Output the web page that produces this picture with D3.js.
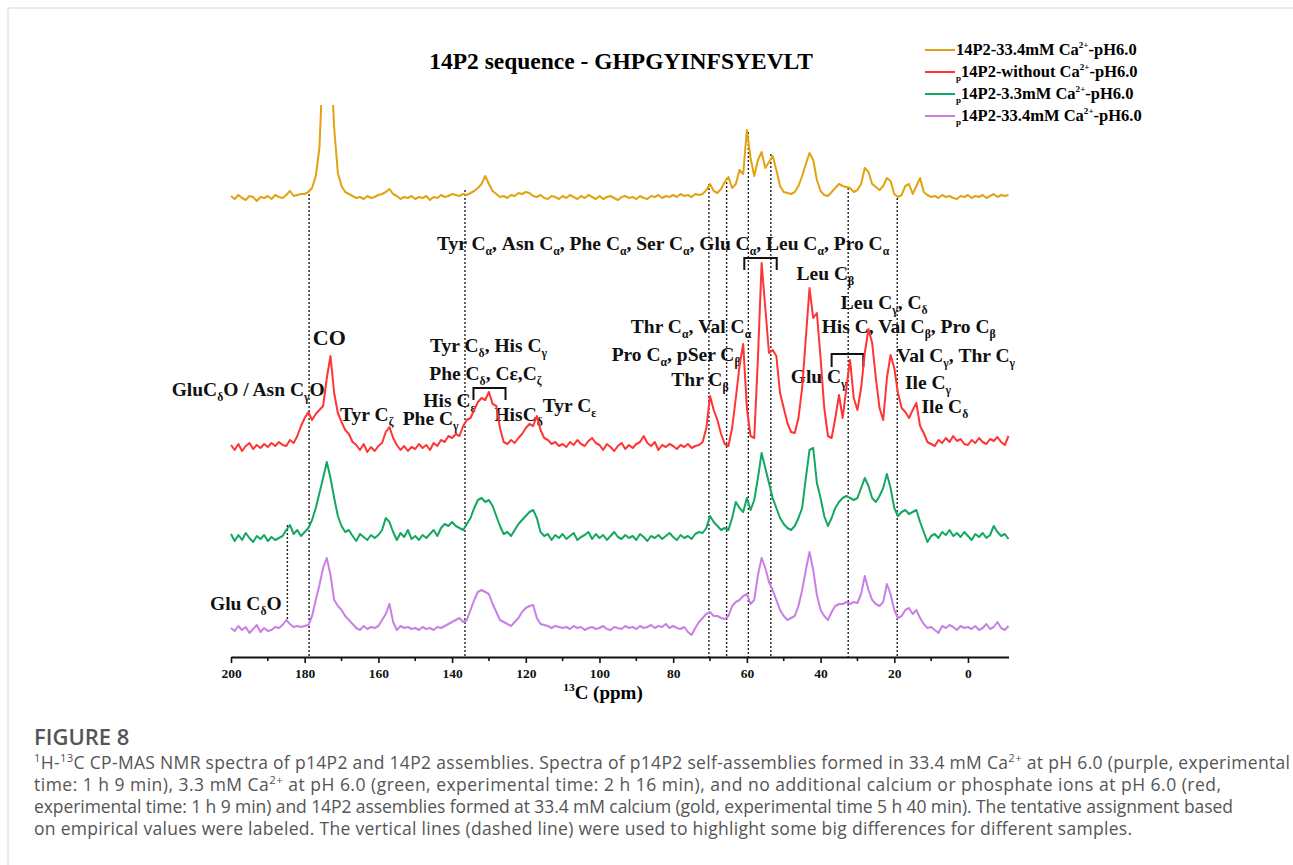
<!DOCTYPE html>
<html>
<head>
<meta charset="utf-8">
<script src="https://cdn.jsdelivr.net/npm/d3@7"></script>
<style>
body { margin: 0; background: #fff; }
</style>
</head>
<body>
<div id="chart"></div>
<script>
// chemical shift grid, 1 ppm per point, 200 -> -11
var ppm = d3.range(200, -12, -1);

// intensities (arbitrary units above each baseline)
var goldData = [
  2, -1, 3, 0, -2, 2, 1, -3, 1, 0,
  2, -1, 3, 1, 0, 3, 7, 2, 3, 4,
  4, 6, 10, 22, 50, 140, 170, 150, 70, 25,
  12, 6, 4, 2, 0, 1, -1, 2, 0, 1,
  3, 4, 6, 9, 4, 2, -1, 1, 0, 2,
  -1, 1, 0, 2, -2, 1, 0, 3, 1, 2,
  4, 3, 2, 4, 3, 5, 7, 10, 14, 22,
  14, 7, 4, 1, 2, 0, 3, 2, 5, 4,
  6, 5, 2, 1, 3, 0, -1, 2, 1, -1,
  2, 0, 3, 1, -1, 2, 0, 3, 1, -1,
  2, -1, 1, 2, 0, -2, 1, 2, 0, 1,
  -1, 2, 0, -1, 2, 1, 3, 0, 2, 1,
  3, 1, 4, 2, 3, 1, 4, 3, 4, 8,
  14, 7, 5, 9, 16, 21, 10, 14, 28, 24,
  68, 40, 22, 38, 46, 30, 36, 42, 28, 12,
  6, 5, 4, 6, 12, 22, 34, 45, 38, 18,
  7, 3, 2, 6, 10, 14, 12, 11, 10, 6,
  8, 14, 30, 26, 14, 11, 8, 12, 20, 17,
  4, 1, 3, 12, 14, 4, 12, 20, 6, 3,
  1, 2, 0, 3, 1, 2, 0, -1, 2, 1,
  3, 0, 2, 1, 3, 0, 2, 4, 1, 3, 2, 3
];
var redData = [
  3, -2, 4, -3, 2, 5, -1, 3, 0, 4,
  1, 5, 2, 6, 3, 2, 8, 5, 12, 22,
  30, 36, 28, 34, 38, 42, 70, 92, 55, 35,
  26, 18, 14, 6, 3, -2, 4, -4, 1, -3,
  2, 5, 16, 21, 10, 3, -2, 2, -3, 1,
  -1, 4, 0, 3, -2, 5, 2, 8, 6, 12,
  10, 14, 12, 22, 28, 30, 38, 46, 50, 48,
  56, 44, 42, 20, 6, 4, 8, 5, 10, 14,
  20, 24, 22, 32, 18, 10, 8, 4, 6, 2,
  4, 1, 6, 3, 8, 4, 2, 7, 10, 5,
  3, -2, 4, 1, -3, 2, 5, -1, 3, 0,
  4, 6, 12, 5, 2, 6, -2, 3, 1, 4,
  2, -1, 3, 1, 4, 0, 2, 3, 6, 20,
  52, 38, 28, 14, 4, 2, 20, 50, 82, 104,
  40, 12, 10, 90, 185, 140, 95, 98, 92, 55,
  40, 25, 16, 15, 30, 60, 110, 160, 130, 135,
  90, 40, 12, 10, 30, 53, 30, 60, 88, 50,
  38, 60, 95, 119, 105, 70, 40, 28, 70, 93,
  80, 55, 40, 36, 30, 38, 45, 22, 15, 6,
  4, 2, 8, 5, 10, 6, 12, 7, 9, 4,
  3, 8, 5, 10, 6, 4, 9, 7, 11, 6, 3, 12
];
var greenData = [
  4, -3, 3, -2, 5, 0, -4, 2, -1, 3,
  -3, 1, -2, 0, 2, 8, 13, 4, 8, 2,
  6, 10, 18, 30, 45, 60, 76, 60, 40, 22,
  12, 6, 8, 2, -3, 4, 1, -2, 3, 0,
  3, 8, 20, 16, 6, -2, 5, 1, 8, -1,
  2, -2, 3, 0, 4, 8, 2, 10, 14, 12,
  16, 12, 10, 8, 14, 20, 30, 38, 40, 36,
  38, 32, 22, 12, 4, 6, 2, 8, 14, 18,
  22, 26, 28, 20, 6, 2, 4, -2, 3, 0,
  4, -1, 2, 5, -2, 1, 3, 6, -1, 4,
  0, 3, -2, 2, 6, 1, -1, 3, 0, 2,
  -2, 4, 1, -3, 2, 0, 3, -1, 2, 5,
  1, -2, 3, 0, 2, -1, 4, 6, 5, 10,
  22, 16, 12, 8, 10, 8, 20, 36, 30, 26,
  40, 28, 38, 60, 85, 70, 55, 40, 30, 20,
  14, 10, 8, 12, 20, 30, 60, 88, 90, 55,
  40, 22, 12, 20, 30, 36, 40, 42, 40, 38,
  40, 50, 60, 52, 40, 36, 42, 50, 64, 50,
  30, 22, 26, 28, 24, 26, 28, 16, 6, -4,
  2, 4, 0, 6, 3, 8, 2, 5, 1, 6,
  2, -2, 4, 1, 5, 0, 3, 12, 6, 2, 4, -1
];
var purpleData = [
  2, -1, 4, 0, 3, -3, 1, 5, -2, 2,
  -1, 0, 3, 2, 5, 10, 6, 3, 4, 3,
  4, 5, 14, 30, 45, 62, 72, 55, 30, 24,
  20, 14, 10, 6, 2, 0, 4, 1, 3, 2,
  4, 10, 16, 26, 8, 0, 4, 2, 3, 1,
  2, 0, 3, 1, 2, 0, 3, 2, 4, 6,
  8, 10, 12, 8, 10, 20, 30, 38, 40, 38,
  36, 26, 18, 10, 8, 6, 4, 8, 12, 18,
  22, 24, 25, 12, 6, 5, 4, 2, 4, 3,
  2, 3, 1, 4, 2, 3, 0, 2, 3, 1,
  2, 4, 1, 0, 3, 2, 1, 4, 2, 3,
  1, 4, 2, 3, 5, 2, 4, 3, 6, 2,
  4, 2, 1, 3, -2, -5, 2, 8, 12, 16,
  18, 14, 14, 12, 11, 14, 24, 28, 30, 34,
  36, 26, 30, 55, 72, 62, 48, 40, 30, 20,
  14, 10, 12, 14, 24, 40, 60, 78, 60, 35,
  20, 14, 10, 18, 24, 26, 26, 28, 26, 28,
  27, 36, 54, 40, 30, 26, 24, 28, 46, 36,
  20, 12, 14, 20, 22, 16, 20, 12, 6, 2,
  3, 0, -3, 4, 2, 5, 3, 0, 4, 2,
  3, 1, 4, 0, 2, 6, 1, 3, 8, 2, 0, 4
];

var seriesNames = [
  "14P2-33.4mM Ca^{2+}-pH6.0",
  "_p14P2-without Ca^{2+}-pH6.0",
  "_p14P2-3.3mM Ca^{2+}-pH6.0",
  "_p14P2-33.4mM Ca^{2+}-pH6.0"
];
var seriesData = [goldData, redData, greenData, purpleData];
var seriesColors = ["#e3a20f", "#ff3535", "#12a862", "#c880e6"];
var seriesOffsets = [459, 209, 119, 27];

var xTicks = [200, 180, 160, 140, 120, 100, 80, 60, 40, 20, 0];
var xMinor = [190, 170, 150, 130, 110, 90, 70, 50, 30, 10];

// peak assignments: text, ppm where text starts, height level
var labels = [
  ["Tyr C_α, Asn C_α, Phe C_α, Ser C_α, Glu C_α, Leu C_α, Pro C_α", 144.1, 407],
  ["Leu C_β", 46.5, 377],
  ["Leu C_γ, C_δ", 34.5, 348],
  ["His C, Val C_β,  Pro C_β", 39.7, 324],
  ["Val C_γ, Thr C_γ", 19.3, 295],
  ["Ile C_γ", 17.1, 268],
  ["Ile C_δ", 12.6, 244],
  ["Glu C_γ", 48.1, 274],
  ["Thr C_β", 80.5, 271],
  ["Pro C_α, pSer C_β", 96.7, 296],
  ["Thr C_α, Val C_α", 91.5, 324],
  ["GluC_δO / Asn C_γO", 216.1, 261],
  ["Tyr C_ζ", 170.4, 236],
  ["Phe C_γ", 153.4, 232],
  ["His C_ε", 147.8, 250],
  ["Phe C_δ, Cε,C_ζ", 146.2, 277],
  ["Tyr C_δ, His C_γ", 146, 305],
  ["HisC_δ", 128.5, 236],
  ["Tyr C_ε", 115.4, 245],
  ["Glu C_δO", 205.7, 47]
];
var coLabel = ["CO", 177.8, 312];
// brackets: ppm left, ppm right, top level, foot level
var brackets = [[60.7, 51.9, 399, 387], [37, 28.4, 303, 290], [134.2, 125.5, 269, 257]];
// dashed guides: ppm, top level, bottom level
var guides = [[178.8, 467, 0], [136.5, 467, 0], [70.3, 473, 0], [65.5, 479, 0],
  [59.6, 525, 0], [53.5, 503, 0], [32.5, 469, 0], [19.2, 459, 0], [184.7, 132, 37]];

var captionLines = [
  "^{1}H-^{13}C CP-MAS NMR spectra of p14P2 and 14P2 assemblies. Spectra of p14P2 self-assemblies formed in 33.4 mM Ca^{2+} at pH 6.0 (purple, experimental",
  "time: 1 h 9 min), 3.3 mM Ca^{2+} at pH 6.0 (green, experimental time: 2 h 16 min), and no additional calcium or phosphate ions at pH 6.0 (red,",
  "experimental time: 1 h 9 min) and 14P2 assemblies formed at 33.4 mM calcium (gold, experimental time 5 h 40 min). The tentative assignment based",
  "on empirical values were labeled. The vertical lines (dashed line) were used to highlight some big differences for different samples."
];
var captionWidths = [1256, 1187, 1199, 1098];

var width = 1293, height = 865;
var serif = "'Liberation Serif', 'Times New Roman', serif";

var svg = d3.select("#chart").append("svg")
    .attr("width", width)
    .attr("height", height);

var x = d3.scaleLinear().domain([200, -11]).range([231, 1008.5]);
var y = d3.scaleLinear().domain([0, 560]).range([657, 97]);

// text with _x subscripts and ^{..} superscripts
function rich(t, s, fs, sub) {
    sub = sub || 0.62;
    var parts = s.split(/(_\{[^}]*\}|\^\{[^}]*\}|_[^\s,{])/);
    var shift = 0;
    parts.forEach(function (p) {
        if (!p) return;
        var kind = 0, txt = p;
        if (p[0] === '_') { kind = 1; txt = p[1] === '{' ? p.slice(2, -1) : p.slice(1); }
        else if (p[0] === '^') { kind = -1; txt = p.slice(2, -1); }
        var target = kind === 1 ? fs * 0.27 : kind === -1 ? -fs * 0.4 : 0;
        t.append('tspan')
            .attr('dy', target - shift)
            .attr('font-size', kind ? fs * sub : fs)
            .text(txt);
        shift = target;
    });
}

// page frame
svg.append('line').attr('x1', 8).attr('x2', width).attr('y1', 8).attr('y2', 8)
    .attr('stroke', '#d8d8d8').attr('stroke-width', 1);
svg.append('line').attr('x1', 8).attr('x2', 8).attr('y1', 8).attr('y2', height)
    .attr('stroke', '#d8d8d8').attr('stroke-width', 1);

// title
svg.append('text')
    .attr('x', 621).attr('y', 69)
    .attr('text-anchor', 'middle')
    .attr('font-family', serif).attr('font-weight', 'bold').attr('font-size', 23.5)
    .text('14P2 sequence - GHPGYINFSYEVLT');

// legend
var legend = svg.append('g').attr('class', 'legend');
seriesNames.forEach(function (name, i) {
    var ly = 50 + i * 22;
    legend.append('line')
        .attr('x1', 925).attr('x2', 955).attr('y1', ly).attr('y2', ly)
        .attr('stroke', seriesColors[i]).attr('stroke-width', 2);
    var t = legend.append('text')
        .attr('x', 956).attr('y', ly + 5)
        .attr('font-family', serif).attr('font-weight', 'bold');
    rich(t, name, 16.5, 0.55);
});

// dashed guide lines
svg.append('g').selectAll('line')
    .data(guides).enter().append('line')
    .attr('x1', function (d) { return x(d[0]); })
    .attr('x2', function (d) { return x(d[0]); })
    .attr('y1', function (d) { return y(d[1]); })
    .attr('y2', function (d) { return y(d[2]); })
    .attr('stroke', '#222').attr('stroke-width', 1.4)
    .attr('stroke-dasharray', '2,2');

// labels
var lab = svg.append('g').attr('font-family', serif).attr('font-weight', 'bold').attr('fill', '#111');
labels.forEach(function (d) {
    var t = lab.append('text').attr('x', x(d[1])).attr('y', y(d[2]));
    rich(t, d[0], 19.5, 0.6);
});
lab.append('text').attr('x', x(coLabel[1])).attr('y', y(coLabel[2]))
    .attr('font-size', 22).text(coLabel[0]);

// brackets
svg.append('g').selectAll('path')
    .data(brackets).enter().append('path')
    .attr('d', function (d) {
        return 'M' + x(d[0]) + ',' + y(d[3]) + 'V' + y(d[2]) + 'H' + x(d[1]) + 'V' + y(d[3]);
    })
    .attr('fill', 'none').attr('stroke', '#111').attr('stroke-width', 2);

// spectra
svg.append('clipPath').attr('id', 'plotClip')
    .append('rect').attr('x', 0).attr('y', 105).attr('width', width).attr('height', 600);

var plot = svg.append('g').attr('clip-path', 'url(#plotClip)');
seriesData.forEach(function (vals, i) {
    var line = d3.line()
        .x(function (d, j) { return x(ppm[j]); })
        .y(function (d) { return y(d + seriesOffsets[i]); });
    plot.append('path')
        .datum(vals)
        .attr('d', line)
        .attr('fill', 'none')
        .attr('stroke', seriesColors[i])
        .attr('stroke-width', 2)
        .attr('stroke-linejoin', 'round');
});

// x axis
var axis = svg.append('g').attr('transform', 'translate(0,' + y(0) + ')')
    .call(d3.axisBottom(x).tickValues(xTicks).tickSize(6).tickSizeOuter(0).tickPadding(5));
axis.select('.domain').attr('stroke', '#111').attr('stroke-width', 2);
axis.selectAll('.tick line').attr('stroke', '#111').attr('stroke-width', 1.6);
axis.selectAll('.tick text')
    .attr('font-family', serif).attr('font-weight', 'bold').attr('font-size', 13.5).attr('fill', '#111');
axis.selectAll('.minor').data(xMinor).enter().append('line')
    .attr('x1', function (d) { return x(d); }).attr('x2', function (d) { return x(d); })
    .attr('y1', 0).attr('y2', 4)
    .attr('stroke', '#111').attr('stroke-width', 1.6);

var xt = svg.append('text')
    .attr('x', 603).attr('y', 699)
    .attr('text-anchor', 'middle')
    .attr('font-family', serif).attr('font-weight', 'bold');
rich(xt, '^{13}C (ppm)', 19, 0.6);

// caption
var sans = "'Open Sans', 'Noto Sans', sans-serif";
svg.append('text')
    .attr('x', 34).attr('y', 745)
    .attr('font-family', sans).attr('font-weight', 600).attr('font-size', 22)
    .attr('fill', '#555')
    .text('FIGURE 8');
captionLines.forEach(function (s, i) {
    var t = svg.append('text')
        .attr('x', 34).attr('y', 769 + i * 22)
        .attr('font-family', sans).attr('font-size', 17.5)
        .attr('fill', '#555')
        .attr('textLength', captionWidths[i])
        .attr('lengthAdjust', 'spacing');
    rich(t, s, 17.5, 0.65);
});
</script>
</body>
</html>
